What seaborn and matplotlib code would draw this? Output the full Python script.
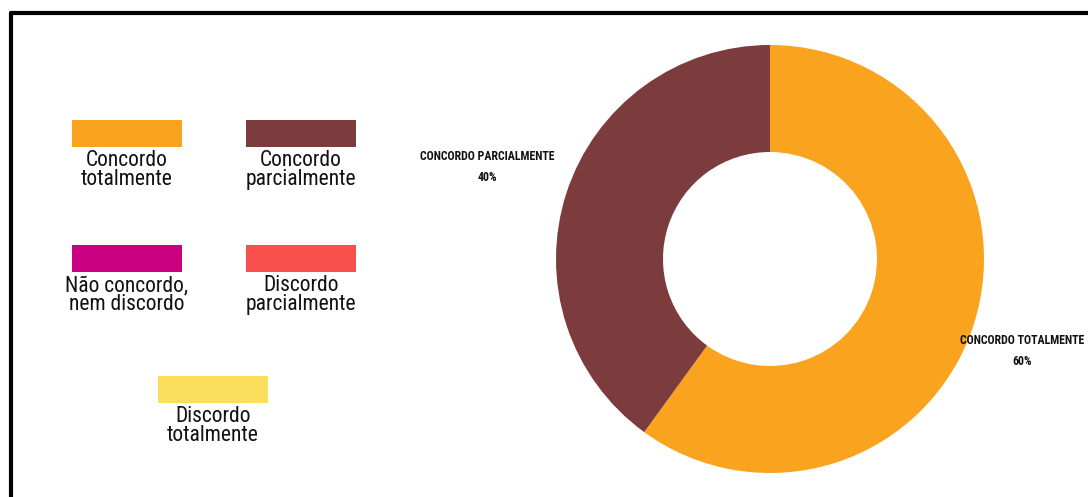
import matplotlib
matplotlib.use('Agg')
import matplotlib.pyplot as plt
import seaborn as sns
from matplotlib import font_manager
from matplotlib.patches import Rectangle
from matplotlib.lines import Line2D

sns.set_theme(style='white')

# pick a condensed face if one is installed
names = {f.name for f in font_manager.fontManager.ttflist}
stretches = {(f.name, f.stretch) for f in font_manager.fontManager.ttflist}
cond = None
for cand in ['Roboto Condensed', 'Liberation Sans Narrow', 'Open Sans Condensed', 'DejaVu Sans Condensed']:
    if cand in names:
        cond = cand
        break
stretch = 'normal'
if cond is None:
    cond = 'DejaVu Sans'
    if any(n == 'DejaVu Sans' and s in ('condensed', 500) for n, s in stretches):
        stretch = 'condensed'
plt.rcParams['font.family'] = [cond, 'DejaVu Sans']
plt.rcParams['font.stretch'] = stretch

# Data
categories = ['Concordo totalmente', 'Concordo parcialmente', 'Não concordo, nem discordo',
              'Discordo parcialmente', 'Discordo totalmente']
legend_labels = ['Concordo\ntotalmente', 'Concordo\nparcialmente', 'Não concordo,\nnem discordo',
                 'Discordo\nparcialmente', 'Discordo\ntotalmente']
pie_labels = ['CONCORDO TOTALMENTE\n60%', 'CONCORDO PARCIALMENTE\n40%']
values = [60, 40]
colors = sns.color_palette(['#F9A31F', '#7C3C3D', '#C9007F', '#F9504D', '#FBDE5C'])

fig = plt.figure(figsize=(10.88, 4.97), dpi=100)
W, H = 1088, 497

# black frame (top and left only visible)
fig.add_artist(Line2D([11 / W, 1], [1 - 13 / H, 1 - 13 / H], color='black', lw=3))
fig.add_artist(Line2D([11 / W, 11 / W], [0, 1 - 13 / H], color='black', lw=3))

# donut
cx, cy, r = 770, 259, 214
ax = fig.add_axes([(cx - r) / W, 1 - (cy + r) / H, 2 * r / W, 2 * r / H])
wedges, texts = ax.pie(values, labels=pie_labels, colors=colors[:2], startangle=90, counterclock=False,
                       wedgeprops=dict(width=0.5, linewidth=0), labeldistance=1.39,
                       textprops=dict(ha='center', va='center', fontsize=8.6, fontweight='bold',
                                      multialignment='center', linespacing=1.75, color='#111111'))
ax.set_xlim(-1, 1)
ax.set_ylim(-1, 1)
ax.set_aspect('equal')
ax.axis('off')

# keep the right-hand label inside the figure
fig.canvas.draw()
bb = texts[0].get_window_extent()
if bb.x1 > W - 4:
    x, y = texts[0].get_position()
    texts[0].set_x(x - (bb.x1 - (W - 4)) / r)

# legend grid: rectangle with label underneath
legend_pos = [(127, 120), (301, 120), (127, 245), (301, 245), (213, 376)]
rw, rh = 110, 27
for (x, y), lab, col in zip(legend_pos, legend_labels, colors):
    fig.add_artist(Rectangle(((x - rw / 2) / W, 1 - (y + rh) / H), rw / W, rh / H,
                             transform=fig.transFigure, color=col, lw=0))
    fig.text(x / W, 1 - (y + rh + 3) / H, lab, ha='center', va='top', fontsize=15.5,
             linespacing=0.88, color='#111111')

fig.savefig('out.png', dpi=100)
